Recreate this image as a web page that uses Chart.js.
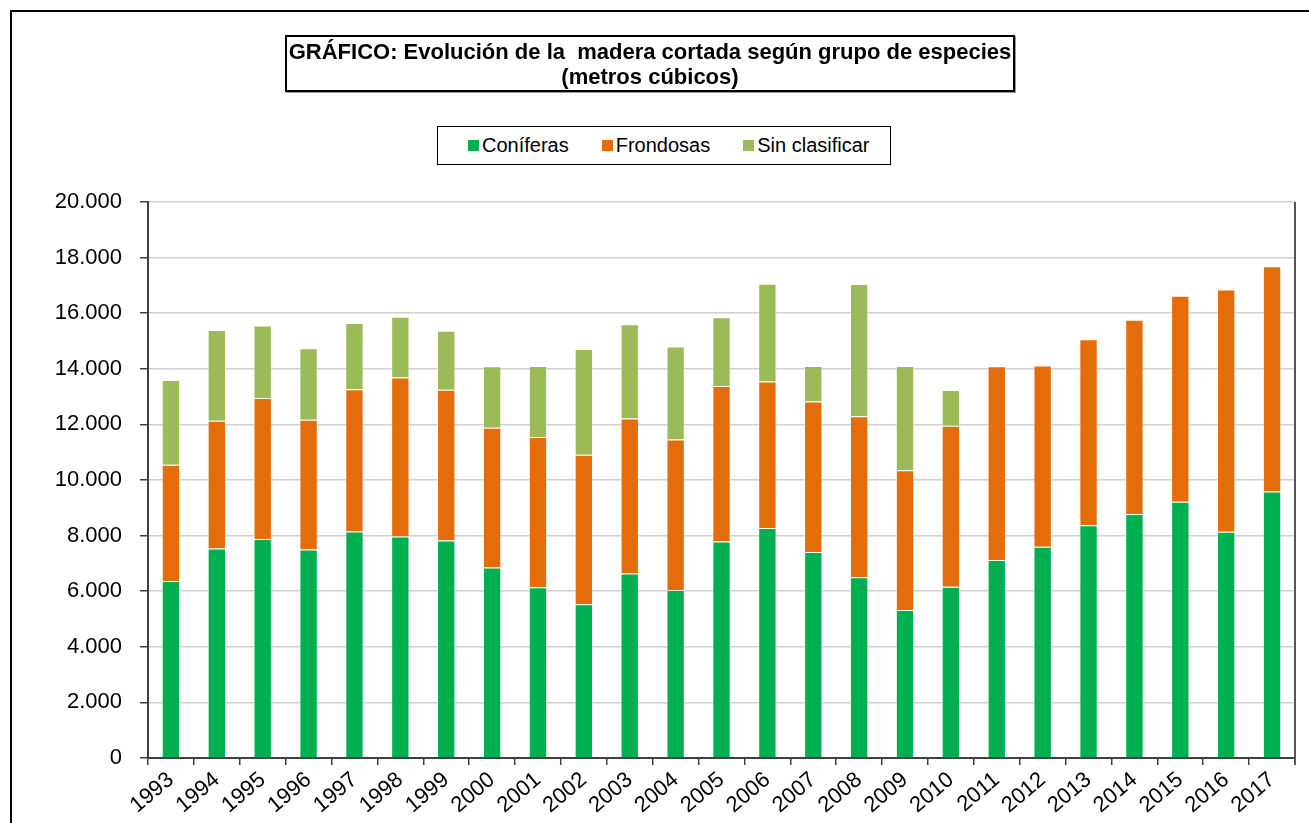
<!DOCTYPE html>
<html>
<head>
<meta charset="utf-8">
<script src="https://cdn.jsdelivr.net/npm/chart.js@4.4.1/dist/chart.umd.min.js"></script>
<style>
  html, body { margin: 0; padding: 0; background: #fff; overflow: hidden; }
  body { width: 1309px; height: 823px; position: relative; font-family: "Liberation Sans", Arial, sans-serif; }
  #frame { position: absolute; left: 10px; top: 10px; width: 1400px; height: 900px; border: 2px solid #000; box-sizing: border-box; }
  #wrap { position: absolute; left: 0; top: 0; width: 1309px; height: 823px; }
  #title { position: absolute; left: 285px; top: 35px; width: 730px; height: 57px; border: 2px solid #000; box-sizing: border-box;
           font-weight: bold; font-size: 22px; line-height: 25px; text-align: center; white-space: pre; padding-top: 2px;
           box-shadow: 1px 1px 0 #999; background: #fff; }
  #legend { position: absolute; left: 437px; top: 126px; width: 454px; height: 39px; border: 1.5px solid #000; box-sizing: border-box;
            display: flex; align-items: center; justify-content: flex-start; padding-left: 30px; font-size: 20px;
            white-space: nowrap; background: #fff; }
  .item { display: flex; align-items: center; flex: none; margin-right: 33px; }
  .item:last-child { margin-right: 0; }
  .sw { width: 11px; height: 11px; margin-right: 3px; flex: none; }
</style>
</head>
<body>
<div id="frame"></div>
<div id="wrap"><canvas id="chart" width="1309" height="823"></canvas></div>
<div id="title"></div>
<div id="legend"></div>
<script>
// Madera cortada según grupo de especies (m³)

const years = ['1993', '1994', '1995', '1996', '1997', '1998', '1999', '2000', '2001', '2002', '2003', '2004', '2005',
  '2006', '2007', '2008', '2009', '2010', '2011', '2012', '2013', '2014', '2015', '2016', '2017'];
const coniferas = [6370, 7540, 7880, 7500, 8150, 7970, 7820, 6850, 6140, 5530, 6640, 6040, 7790,
  8270, 7410, 6500, 5320, 6160, 7120, 7600, 8370, 8780, 9220, 8140, 9590];
const frondosas = [4180, 4590, 5070, 4670, 5110, 5720, 5430, 5030, 5410, 5380, 5570, 5420, 5590,
  5270, 5410, 5790, 5030, 5790, 6970, 6520, 6690, 6980, 7410, 8710, 8100];
const sinClasificar = [3050, 3270, 2610, 2570, 2390, 2180, 2120, 2210, 2550, 3800, 3390, 3340, 2470,
  3520, 1280, 4760, 3750, 1290, 0, 0, 0, 0, 0, 0, 0];
const yTicks = [0, 2000, 4000, 6000, 8000, 10000, 12000, 14000, 16000, 18000, 20000];

const titleLines = ['GRÁFICO: Evolución de la  madera cortada según grupo de especies', '(metros cúbicos)'];
const seriesNames = ['Coníferas', 'Frondosas', 'Sin clasificar'];
const seriesColors = ['#00B050', '#E46C0A', '#9BBB59'];

const FONT = '"Liberation Sans", Arial, sans-serif';
const $ = (sel) => document.querySelector(sel);

// ── título y leyenda ──────────────────────────────────────
$('#title').textContent = titleLines.join('\n');
$('#legend').innerHTML = seriesNames.map((n, i) =>
  `<span class="item"><span class="sw" style="background:${seriesColors[i]}"></span>${n}</span>`).join('');

// ── borde derecho del área de trazado ─────────────────────
const rightEdge = {
  id: 'rightEdge',
  afterDraw(c) {
    const { ctx, chartArea: a } = c;
    ctx.save();
    ctx.strokeStyle = '#555';
    ctx.lineWidth = 2;
    ctx.beginPath();
    ctx.moveTo(a.right, a.top);
    ctx.lineTo(a.right, a.bottom + 7);
    ctx.stroke();
    ctx.restore();
  }
};

function fmtNum(v) { return String(v).replace(/\B(?=(\d{3})+(?!\d))/g, '.'); }

const series = [coniferas, frondosas, sinClasificar];

new Chart($('#chart'), {
  type: 'bar',
  data: {
    labels: years,
    datasets: series.map((d, i) => ({
      label: seriesNames[i], data: d, backgroundColor: seriesColors[i],
      borderColor: 'rgba(255,255,255,0.45)', borderWidth: 1
    }))
  },
  options: {
    responsive: false, animation: false,
    layout: { padding: { left: 0, top: 202, right: 14, bottom: 0 } },
    datasets: { bar: { categoryPercentage: 1, barPercentage: 0.4 } },
    plugins: { legend: { display: false }, title: { display: false }, tooltip: { enabled: false } },
    scales: {
      x: {
        stacked: true,
        grid: { drawOnChartArea: false, offset: true, tickLength: 7, color: '#404040', lineWidth: 1.5 },
        border: { color: '#404040', width: 2 },
        ticks: { color: '#000', font: { size: 22, family: FONT }, minRotation: 40, maxRotation: 40, autoSkip: false, padding: 2 },
        afterFit(s) { s.height = 65; }
      },
      y: {
        stacked: true, min: 0, max: 20000,
        afterBuildTicks(s) { s.ticks = yTicks.map(v => ({ value: v })); },
        grid: { color: '#d0d0d0', lineWidth: 1.5, tickLength: 8, tickColor: '#404040' },
        border: { color: '#404040', width: 2 },
        ticks: { color: '#000', font: { size: 22, family: FONT }, padding: 18, callback: v => fmtNum(v) },
        afterFit(s) { s.width = 148; }
      }
    }
  },
  plugins: [rightEdge]
});
</script>
</body>
</html>
